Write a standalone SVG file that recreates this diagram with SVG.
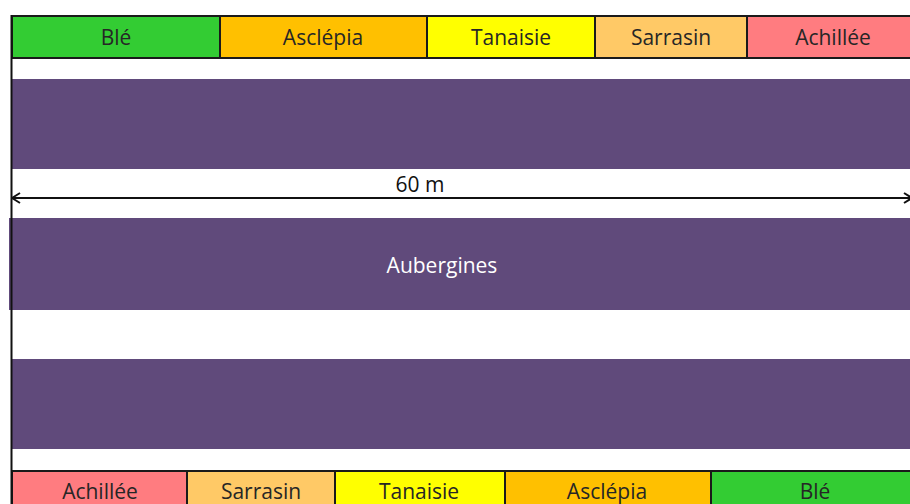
<svg xmlns="http://www.w3.org/2000/svg" width="910" height="504" viewBox="0 0 910 504">
<defs>
<style>
.cell{stroke:#1a1a1a;stroke-width:2}
.lbl{font-family:"Open Sans","Liberation Sans",sans-serif;font-size:21px;fill:#262626;text-anchor:middle}
.band{fill:#604A7B}
.wlbl{font-family:"Open Sans","Liberation Sans",sans-serif;font-size:21px;fill:#ffffff;text-anchor:middle}
.dim{font-family:"Open Sans","Liberation Sans",sans-serif;font-size:21px;fill:#111;text-anchor:middle}
</style>
<marker id="arr" viewBox="0 0 12 12" refX="11" refY="6" markerWidth="12" markerHeight="12" markerUnits="userSpaceOnUse" orient="auto-start-reverse">
<path d="M3,1 L11,6 L3,11" fill="none" stroke="#111" stroke-width="2"/>
</marker>
</defs>
<rect width="910" height="504" fill="#ffffff"/>
<g id="bands">
<rect id="band1" class="band" x="12" y="79" width="898" height="90"/>
<g id="band2"><rect class="band" x="9" y="218" width="901" height="92"/><text class="wlbl" x="442" y="273">Aubergines</text></g>
<rect id="band3" class="band" x="12" y="359" width="898" height="90"/>
</g>
<g id="top">
<g id="t-ble"><rect class="cell" x="12" y="16" width="208" height="42" fill="#33CC33"/><text class="lbl" x="116" y="45">Blé</text></g>
<g id="t-asclepia"><rect class="cell" x="220" y="16" width="207" height="42" fill="#FFC000"/><text class="lbl" x="323" y="45">Asclépia</text></g>
<g id="t-tanaisie"><rect class="cell" x="427" y="16" width="168" height="42" fill="#FFFF00"/><text class="lbl" x="511" y="45">Tanaisie</text></g>
<g id="t-sarrasin"><rect class="cell" x="595" y="16" width="152" height="42" fill="#FFC966"/><text class="lbl" x="671" y="45">Sarrasin</text></g>
<g id="t-achillee"><rect class="cell" x="747" y="16" width="170" height="42" fill="#FF7C80"/><text class="lbl" x="833" y="45">Achillée</text></g>
</g>
<g id="bottom">
<g id="b-achillee"><rect class="cell" x="12" y="471" width="175" height="40" fill="#FF7C80"/><text class="lbl" x="100" y="499">Achillée</text></g>
<g id="b-sarrasin"><rect class="cell" x="187" y="471" width="148" height="40" fill="#FFC966"/><text class="lbl" x="261" y="499">Sarrasin</text></g>
<g id="b-tanaisie"><rect class="cell" x="335" y="471" width="170" height="40" fill="#FFFF00"/><text class="lbl" x="419" y="499">Tanaisie</text></g>
<g id="b-asclepia"><rect class="cell" x="505" y="471" width="206" height="40" fill="#FFC000"/><text class="lbl" x="607" y="499">Asclépia</text></g>
<g id="b-ble"><rect class="cell" x="711" y="471" width="206" height="40" fill="#33CC33"/><text class="lbl" x="815" y="499">Blé</text></g>
</g>
<line id="left-border" x1="11.5" y1="15" x2="11.5" y2="504" stroke="#111" stroke-width="2"/>
<g id="connectors">
<line x1="12" y1="198" x2="912" y2="198" stroke="#111" stroke-width="2" marker-start="url(#arr)" marker-end="url(#arr)"/>
<text class="dim" x="420" y="192">60 m</text>
</g>
</svg>
